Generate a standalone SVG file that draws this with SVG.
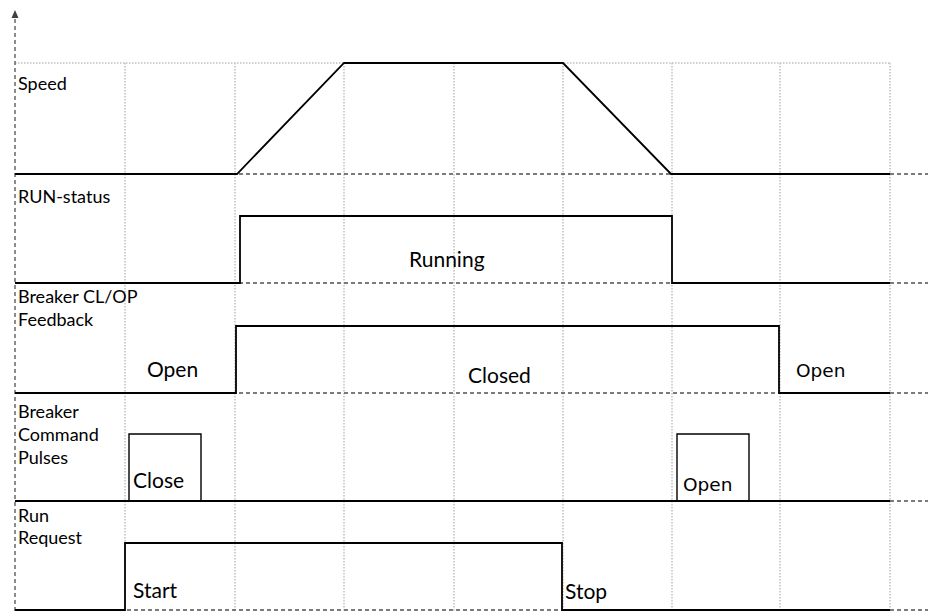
<svg xmlns="http://www.w3.org/2000/svg" width="928" height="611" viewBox="0 0 928 611">
<style>
.grid{stroke:#c0c0c0;stroke-width:1.5;stroke-dasharray:1.5 1.5;fill:none}
.sep{stroke:#505050;stroke-width:1.3;stroke-dasharray:4 3;fill:none}
.sig{stroke:#000;stroke-width:1.8;fill:none;stroke-linejoin:miter}
.pulse{stroke:#000;stroke-width:1.4;fill:none}
.lbl{font-family:Lato,"Liberation Sans",sans-serif;font-size:18px;fill:#000}
.val{font-family:Lato,"Liberation Sans",sans-serif;font-size:21px;fill:#000}
.valb{font-family:"DejaVu Sans",sans-serif;font-size:18.5px;fill:#000}
</style>
<rect width="928" height="611" fill="#fff"/>
<g id="grid">
<line class="grid" x1="15" y1="63" x2="890" y2="63"/>
<line class="grid" x1="125" y1="63" x2="125" y2="611"/>
<line class="grid" x1="235" y1="63" x2="235" y2="611"/>
<line class="grid" x1="344" y1="63" x2="344" y2="611"/>
<line class="grid" x1="454" y1="63" x2="454" y2="611"/>
<line class="grid" x1="563" y1="63" x2="563" y2="611"/>
<line class="grid" x1="672" y1="63" x2="672" y2="611"/>
<line class="grid" x1="780" y1="63" x2="780" y2="611"/>
<line class="grid" x1="890" y1="63" x2="890" y2="611"/>
</g>
<g id="separators">
<line class="sep" x1="15" y1="174" x2="928" y2="174"/>
<line class="sep" x1="15" y1="283" x2="928" y2="283"/>
<line class="sep" x1="15" y1="393" x2="928" y2="393"/>
<line class="sep" x1="15" y1="501" x2="928" y2="501"/>
<line class="sep" x1="15" y1="610" x2="928" y2="610"/>
</g>
<g id="axis">
<line class="sep" x1="15" y1="611" x2="15" y2="17"/>
<polygon points="15,10 11.5,18 18.5,18" fill="#404040"/>
</g>
<g id="speed">
<polyline class="sig" points="15,174 237,174 344,63 563,63 671,174 890,174"/>
<text class="lbl" x="18" y="90">Speed</text>
</g>
<g id="run-status">
<polyline class="sig" points="15,283 240,283 240,216 672,216 672,283 890,283"/>
<text class="lbl" x="18" y="203">RUN-status</text>
<text class="val" x="409" y="267">Running</text>
</g>
<g id="breaker-feedback">
<polyline class="sig" points="15,393 236,393 236,326 779,326 779,393 890,393"/>
<text class="lbl" x="18" y="303">Breaker CL/OP</text>
<text class="lbl" x="18" y="326">Feedback</text>
<text class="val" x="147" y="377">Open</text>
<text class="val" x="468" y="383">Closed</text>
<text class="valb" x="796" y="377">Open</text>
</g>
<g id="breaker-command">
<polyline class="sig" points="15,501 129,501 890,501"/>
<polyline class="pulse" points="129,501 129,434 201,434 201,501"/>
<polyline class="pulse" points="677,501 677,434 749,434 749,501"/>
<text class="lbl" x="18" y="418">Breaker</text>
<text class="lbl" x="18" y="441">Command</text>
<text class="lbl" x="18" y="464">Pulses</text>
<text class="val" x="133" y="488">Close</text>
<text class="valb" x="683" y="491">Open</text>
</g>
<g id="run-request">
<polyline class="sig" points="15,610 125,610 125,543 562,543 562,610 890,610"/>
<text class="lbl" x="18" y="522">Run</text>
<text class="lbl" x="18" y="544">Request</text>
<text class="val" x="133" y="598">Start</text>
<text class="val" x="565" y="599">Stop</text>
</g>
</svg>
